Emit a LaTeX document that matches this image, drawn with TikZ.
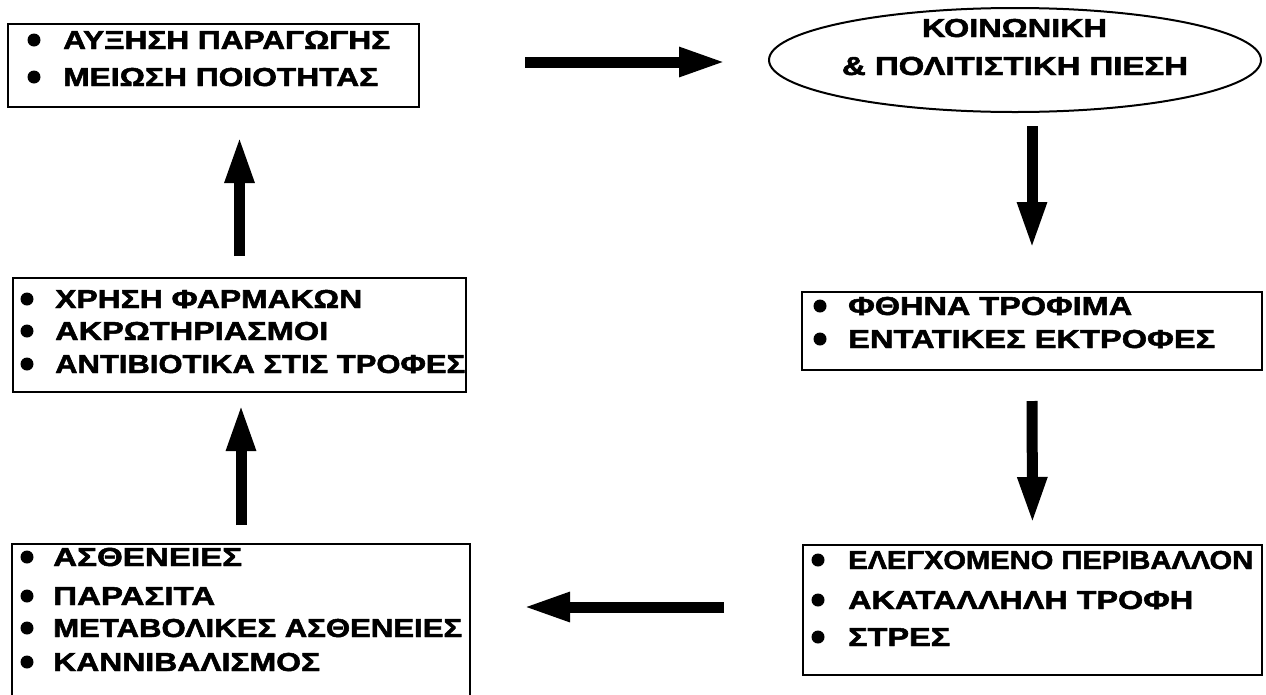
\documentclass[tikz,border=0pt]{standalone}
\usepackage{fontspec}
\usepackage{graphicx}
\newfontfamily\grk[FakeBold=1.8]{Liberation Sans}
\usetikzlibrary{arrows.meta,shapes.geometric}
\newlength\gnatw
\newcommand\gfit[2]{\settowidth\gnatw{#2}\pgfmathsetmacro\gfac{#1/\gnatw}\scalebox{\gfac}[1]{#2}}
\begin{document}
\begin{tikzpicture}[x=1pt,y=-1pt,
  box/.style={draw, line width=2pt, rectangle, inner sep=0pt},
  txt/.style={anchor=base west, inner sep=0pt, font=\grk\bfseries\fontsize{26}{30}\selectfont},
  ctxt/.style={anchor=base, inner sep=0pt, font=\grk\bfseries\fontsize{26}{30}\selectfont},
  fatarrow/.style={line width=11pt, -{Triangle[length=47pt,width=27pt]}},
  bul/.style={fill=black}]
\useasboundingbox (0,0) rectangle (1266,694);
\clip (0,0) rectangle (1266,694);

% boxes
\node[box, minimum width=411pt, minimum height=83pt] (b1) at (213.5,65.5) {};
\node[draw, line width=2pt, ellipse, inner sep=0pt, minimum width=492pt, minimum height=104pt] (ell) at (1015,60) {};
\node[box, minimum width=460pt, minimum height=78pt] (b2) at (1032,331) {};
\node[box, minimum width=459pt, minimum height=130pt] (b3) at (1032.5,610) {};
\node[box, minimum width=458pt, minimum height=166pt] (b4) at (241,627) {};
\node[box, minimum width=453pt, minimum height=114pt] (b5) at (239.5,335) {};

% texts
\node[ctxt] (e1) at (1014.5,37) {\gfit{185}{ΚΟΙΝΩΝΙΚΗ}};
\node[ctxt] (e2) at (1015,75) {\gfit{346}{\& ΠΟΛΙΤΙΣΤΙΚΗ ΠΙΕΣΗ}};

\node[txt] (t1a) at (63,49) {\gfit{327}{ΑΥΞΗΣΗ ΠΑΡΑΓΩΓΗΣ}};
\node[txt] (t1b) at (63,86) {\gfit{315}{ΜΕΙΩΣΗ ΠΟΙΟΤΗΤΑΣ}};
\fill[bul] (34,40) circle[radius=6.5pt];
\fill[bul] (34,77) circle[radius=6.5pt];

\node[txt] (t2a) at (848,315) {\gfit{284}{ΦΘΗΝΑ ΤΡΟΦΙΜΑ}};
\node[txt] (t2b) at (848,348) {\gfit{367}{ΕΝΤΑΤΙΚΕΣ ΕΚΤΡΟΦΕΣ}};
\fill[bul] (820,306) circle[radius=6.5pt];
\fill[bul] (820,339) circle[radius=6.5pt];

\node[txt] (t3a) at (848,569) {\gfit{405}{ΕΛΕΓΧΟΜΕΝΟ ΠΕΡΙΒΑΛΛΟΝ}};
\node[txt] (t3b) at (848,609) {\gfit{345}{ΑΚΑΤΑΛΛΗΛΗ ΤΡΟΦΗ}};
\node[txt] (t3c) at (848,646) {\gfit{102}{ΣΤΡΕΣ}};
\fill[bul] (818,560) circle[radius=6.5pt];
\fill[bul] (818,600) circle[radius=6.5pt];
\fill[bul] (818,637) circle[radius=6.5pt];

\node[txt] (t4a) at (53,566) {\gfit{189}{ΑΣΘΕΝΕΙΕΣ}};
\node[txt] (t4b) at (53,605) {\gfit{162}{ΠΑΡΑΣΙΤΑ}};
\node[txt] (t4c) at (53,637) {\gfit{409}{ΜΕΤΑΒΟΛΙΚΕΣ ΑΣΘΕΝΕΙΕΣ}};
\node[txt] (t4d) at (53,671) {\gfit{267}{ΚΑΝΝΙΒΑΛΙΣΜΟΣ}};
\fill[bul] (27,557) circle[radius=6.5pt];
\fill[bul] (27,596) circle[radius=6.5pt];
\fill[bul] (27,628) circle[radius=6.5pt];
\fill[bul] (27,662) circle[radius=6.5pt];

\node[txt] (t5a) at (55,308) {\gfit{307}{ΧΡΗΣΗ ΦΑΡΜΑΚΩΝ}};
\node[txt] (t5b) at (55,340) {\gfit{273}{ΑΚΡΩΤΗΡΙΑΣΜΟΙ}};
\node[txt] (t5c) at (55,373) {\gfit{410}{ΑΝΤΙΒΙΟΤΙΚΑ ΣΤΙΣ ΤΡΟΦΕΣ}};
\fill[bul] (27,299) circle[radius=6.5pt];
\fill[bul] (27,331) circle[radius=6.5pt];
\fill[bul] (27,364) circle[radius=6.5pt];

% arrows
\draw[fatarrow, shorten <=105pt, shorten >=42pt] ([yshift=-2pt]b1.east |- ell.west) -- ([yshift=-2pt]ell.west);
\draw[fatarrow, shorten <=13pt, shorten >=42pt] (ell.south -| b2.north) -- (b2.north);
\draw[fatarrow, shorten <=30pt, shorten >=20pt] (b2.south) -- (b3.north);
\draw[fatarrow, shorten <=78pt, shorten >=52pt] ([yshift=3pt]b3.west) -- ([yshift=3pt]b3.west -| b4.east);
\draw[fatarrow, shorten <=18pt, shorten >=11pt] (b4.north) -- (b4.north |- b5.south);
\draw[fatarrow, shorten <=21pt, shorten >=28pt] (b5.north) -- (b5.north |- b1.south);
\end{tikzpicture}
\end{document}
